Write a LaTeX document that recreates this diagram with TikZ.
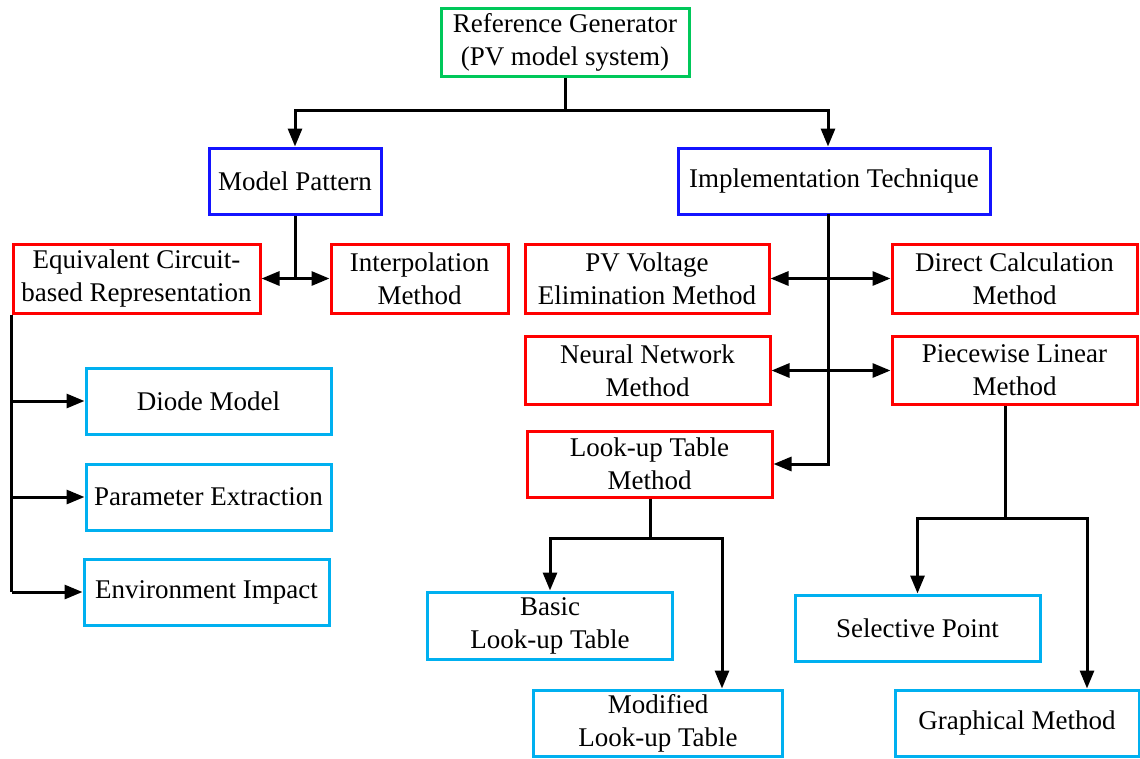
\documentclass[tikz,border=0pt]{standalone}
\usepackage{fontspec}
\setmainfont{Liberation Serif}
\usetikzlibrary{arrows.meta}
\definecolor{cgreen}{RGB}{0,200,90}
\definecolor{cblue}{RGB}{20,20,255}
\definecolor{cred}{RGB}{255,0,0}
\definecolor{ccyan}{RGB}{0,176,240}
\tikzset{
  box/.style={draw=#1, line width=3pt, inner sep=0pt, align=center,
    font=\fontsize{27}{33}\selectfont},
  conn/.style={line width=3pt, black},
  arr/.style={conn, -{Triangle[length=18pt,width=14pt]}},
  darr/.style={conn, {Triangle[length=18pt,width=14pt]}-{Triangle[length=18pt,width=14pt]}},
}
\newcommand{\bx}[7]{\node[box=#1, minimum width=#5pt, minimum height=#6pt] (#2) at (#3,#4) {#7};}
\begin{document}
\begin{tikzpicture}[x=1pt,y=-1pt]
\useasboundingbox (0,0) rectangle (1140,758);
% boxes
\bx{cgreen}{gen}{565}{42}{248}{68}{Reference Generator\\(PV model system)}
\bx{cblue}{mp}{295}{181}{172}{66}{Model Pattern}
\bx{cblue}{it}{834}{181}{312}{66}{Implementation Technique}
\bx{cred}{ec}{136.5}{278.5}{247}{69}{Equivalent Circuit-\\based Representation}
\bx{cred}{ip}{419.5}{278.5}{177}{69}{Interpolation\\Method}
\bx{cred}{pv}{647}{278.5}{244}{69}{PV Voltage\\Elimination Method}
\bx{cred}{dc}{1014.5}{278.5}{245}{69}{Direct Calculation\\Method}
\bx{cred}{nn}{647.5}{370.5}{245}{68}{Neural Network\\Method}
\bx{cred}{pl}{1014.5}{370.5}{245}{68}{Piecewise Linear\\Method}
\bx{cred}{lt}{649.5}{464}{245}{66}{Look-up Table\\Method}
\bx{ccyan}{dm}{208.5}{401}{245}{66}{Diode Model}
\bx{ccyan}{pe}{208.5}{497}{245}{66}{Parameter Extraction}
\bx{ccyan}{ei}{206.5}{592}{245}{66}{Environment Impact}
\bx{ccyan}{bl}{550}{625.5}{245}{67}{Basic\\Look-up Table}
\bx{ccyan}{ml}{658}{723}{249}{66}{Modified\\Look-up Table}
\bx{ccyan}{sp}{917.5}{628}{245}{66}{Selective Point}
\bx{ccyan}{gm}{1017}{723}{244}{66}{Graphical Method}
% coordinates
\coordinate (top) at (565,110);
\coordinate (itb) at (828,214);
\coordinate (ltj) at (650,538);
\coordinate (plj) at (1005,518);
% connectors
\draw[conn] (gen.south) -- (top);
\draw[arr] (top) -| (mp.north);
\draw[arr] (top) -| (itb |- it.north);
\draw[conn] (mp.south) -- (mp.south |- ec.east);
\draw[darr] (ec.east) -- (ip.west);
\draw[arr] (itb) |- (lt.east);
\draw[darr] (pv.east) -- (dc.west);
\draw[darr] (nn.east) -- (pl.west);
\draw[conn] (ec.south west) -- (ec.south west |- ei.west);
\draw[arr] (ec.south west |- dm.west) -- (dm.west);
\draw[arr] (ec.south west |- pe.west) -- (pe.west);
\draw[arr] (ec.south west |- ei.west) -- (ei.west);
\draw[conn] (lt.south -| ltj) -- (ltj);
\draw[arr] (ltj) -| (bl.north);
\draw[arr] (ltj) -| ([xshift=64pt]ml.north);
\draw[conn] (pl.south -| plj) -- (plj);
\draw[arr] (plj) -| (sp.north);
\draw[arr] (plj) -| ([xshift=70pt]gm.north);
\end{tikzpicture}
\end{document}
